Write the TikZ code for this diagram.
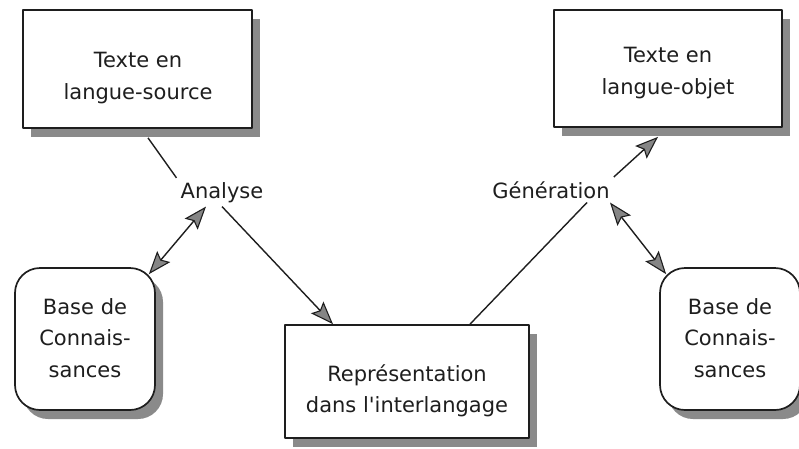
\documentclass[tikz,border=0pt]{standalone}
\usepackage{fontspec}
\setmainfont{DejaVu Sans}[Ligatures=TeXOff]
\usetikzlibrary{arrows.meta,shadows}
\definecolor{ink}{HTML}{1E1E1E}
\definecolor{shade}{HTML}{8A8A8A}
\definecolor{tipfill}{HTML}{858585}
\begin{document}
\begin{tikzpicture}[x=1pt,y=-1pt,
  every node/.style={font=\fontsize{21}{31.5}\selectfont, text=ink},
  txt/.style={align=center, inner sep=0pt},
  lbl/.style={inner sep=4pt, anchor=base},
  shadowed/.style={drop shadow={shadow xshift=8pt, shadow yshift=-9pt, fill=shade, opacity=1}},
  box/.style={shadowed, draw=ink, line width=1.7pt, fill=white, rectangle, inner sep=0pt},
  kbox/.style={box, rounded corners=25pt, minimum width=140pt, minimum height=142pt},
  conn/.style={draw=ink, line width=1.4pt},
  fwd/.style={-{Stealth[length=23pt, width=17pt, inset=4pt, fill=tipfill, line width=1.1pt]}},
  both/.style={{Stealth[length=23pt, width=17pt, inset=4pt, fill=tipfill, line width=1.1pt]}-{Stealth[length=23pt, width=17pt, inset=4pt, fill=tipfill, line width=1.1pt]}},
  line join=round]
  % page
  \path[use as bounding box, fill=white] (0,0) rectangle (799,448);

  % source text
  \node[box, minimum width=229pt, minimum height=118pt] (box1) at (137.5,69) {};
  \node[txt] (t1) at (138,78) {Texte en\\langue-source};

  % target text
  \node[box, minimum width=228pt, minimum height=117pt] (box2) at (668,68.5) {};
  \node[txt] (t2) at (668,73) {Texte en\\langue-objet};

  % interlingua representation
  \node[box, minimum width=244pt, minimum height=113pt] (rep) at (407,381.5) {};
  \node[txt] (t3) at (407,391) {Représentation\\dans l'interlangage};

  % knowledge bases
  \node[kbox] (base1) at (85,339) {};
  \node[txt] (t4) at (85,338) {Base de\\Connais-\\sances};
  \node[kbox] (base2) at (730,339) {};
  \node[txt] (t5) at (730,338) {Base de\\Connais-\\sances};

  % process labels
  \node[lbl] (ana) at (222,198) {Analyse};
  \node[lbl] (gen) at (551,198) {Génération};

  % analysis side
  \draw[conn] ([shift={(10.5,9)}]box1.south) -- (ana.north west);
  \draw[conn,fwd] (ana.south) -- ([xshift=-74pt]rep.north);
  \draw[conn,both] ([xshift=-16pt]ana.south) -- ([shift={(-7,7)}]base1.north east);

  % generation side
  \draw[conn] ([xshift=63pt]rep.north) -- ([xshift=36pt]gen.south);
  \draw[conn,fwd] (gen.north east) -- ([shift={(-10,9)}]box2.south);
  \draw[conn,both] ([xshift=59pt]gen.south) -- ([shift={(7,7)}]base2.north west);
\end{tikzpicture}
\end{document}
